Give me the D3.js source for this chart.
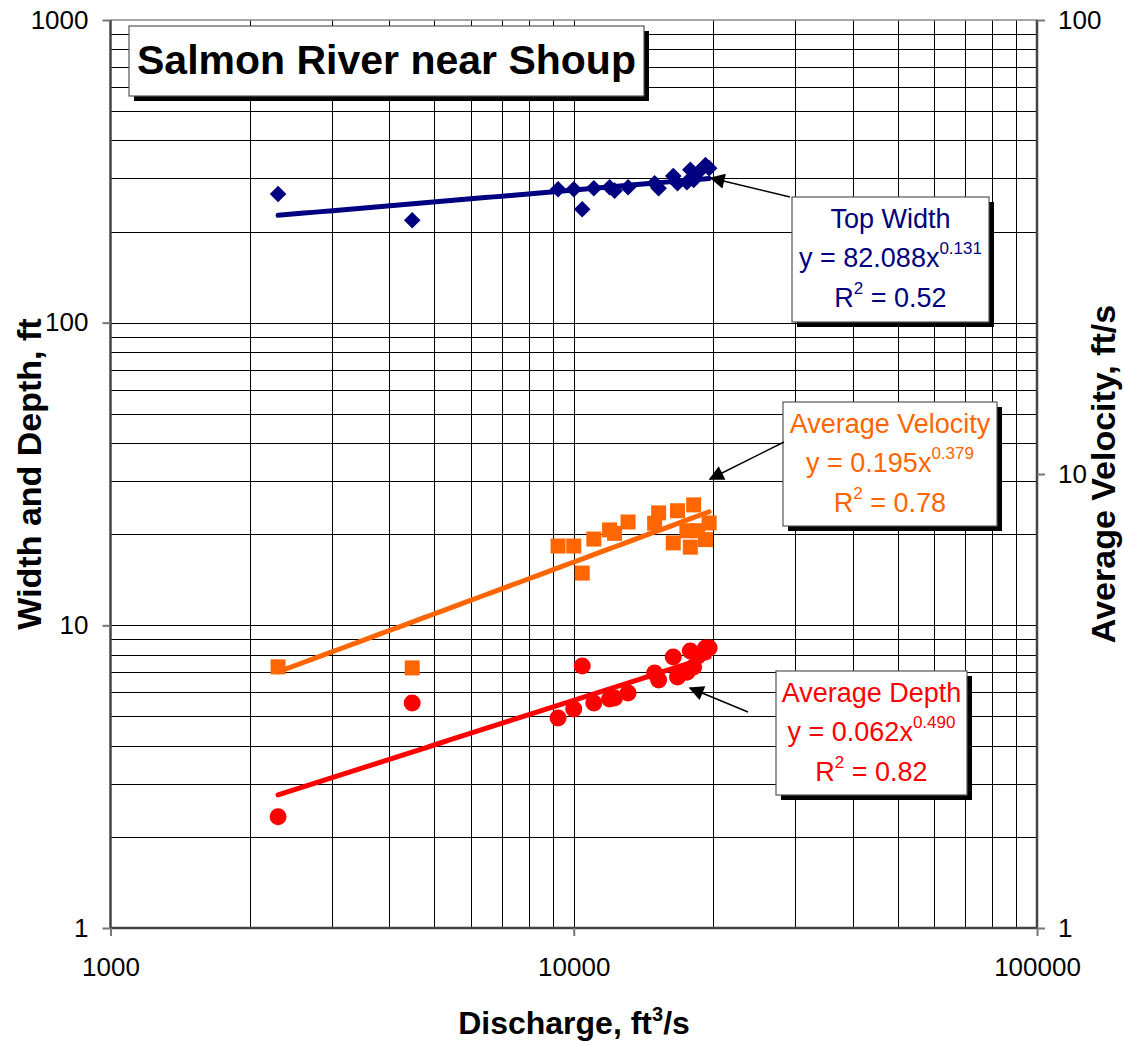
<!DOCTYPE html>
<html>
<head>
<meta charset="utf-8">
<script src="https://cdn.jsdelivr.net/npm/d3@7"></script>
<style>
  html, body { margin: 0; padding: 0; background: #fff; }
  svg { display: block; font-family: Arial, "Liberation Sans", sans-serif; }
</style>
</head>
<body>
<svg id="chart" width="1125" height="1042"></svg>
<script>
// ---------- DATA ----------
const discharge = [2300, 4480, 9250, 10000, 10430, 11050, 11950, 12250, 13100, 14950, 15250, 16400, 16750, 17550, 17850, 18150, 18500, 19250, 19600];
const topWidth  = [266, 218, 276, 276, 237, 278, 280, 273, 280, 289, 278, 305, 289, 291, 320, 296, 312, 332, 324];
const avgDepth  = [2.33, 5.54, 4.94, 5.29, 7.34, 5.54, 5.71, 5.75, 5.98, 6.96, 6.60, 7.86, 6.75, 7.0, 8.23, 7.29, 7.9, 8.42, 8.42];
const avgVelocity = [3.76, 3.74, 6.94, 6.94, 6.05, 7.19, 7.53, 7.4, 7.84, 7.79, 8.21, 7.05, 8.3, 7.5, 6.9, 8.55, 7.5, 7.17, 7.8];

const fits = [
  { name: "Top Width",        a: 82.088, b: 0.131, r2: "0.52", color: "#000080", axis: "left",  coef: "82.088", exp: "0.131" },
  { name: "Average Velocity", a: 0.195,  b: 0.379, r2: "0.78", color: "#FF6600", axis: "right", coef: "0.195",  exp: "0.379" },
  { name: "Average Depth",    a: 0.062,  b: 0.490, r2: "0.82", color: "#FF0000", axis: "left",  coef: "0.062",  exp: "0.490" }
];

const xTicks = [1000, 10000, 100000];
const yLeftTicks = [1, 10, 100, 1000];
const yRightTicks = [1, 10, 100];

// ---------- LAYOUT ----------
const svg = d3.select("#chart");
const L = 110.5, R = 1037, T = 20, B = 928;

const x = d3.scaleLog().domain([1000, 100000]).range([L, R]);
const yL = d3.scaleLog().domain([1, 1000]).range([B, T]);
const yR = d3.scaleLog().domain([1, 100]).range([B, T]);

function minors(lo, hi) {
  const out = [];
  for (let d = lo; d < hi; d *= 10) for (let k = 2; k <= 9; k++) out.push(d * k);
  return out;
}

const grid = svg.append("g").attr("shape-rendering", "crispEdges");
grid.selectAll("line.h").data(minors(1, 1000).concat([10, 100]))
  .enter().append("line")
  .attr("x1", L).attr("x2", R)
  .attr("y1", d => Math.round(yL(d)) + 0.5).attr("y2", d => Math.round(yL(d)) + 0.5)
  .attr("stroke", "#000").attr("stroke-width", 1);
grid.selectAll("line.v").data(minors(1000, 100000).concat([10000]))
  .enter().append("line")
  .attr("y1", T).attr("y2", B)
  .attr("x1", d => Math.round(x(d)) + 0.5).attr("x2", d => Math.round(x(d)) + 0.5)
  .attr("stroke", "#000").attr("stroke-width", 1);

svg.append("line").attr("x1", L).attr("x2", R).attr("y1", T).attr("y2", T)
  .attr("stroke", "#888").attr("stroke-width", 1.5);

// axes
const fmt = d => String(d);
const xAxis = d3.axisBottom(x).tickValues(xTicks).tickFormat(fmt).tickSize(8).tickPadding(22);
const yLeftAxis = d3.axisLeft(yL).tickValues(yLeftTicks).tickFormat(fmt).tickSize(8).tickPadding(14);
const yRightAxis = d3.axisRight(yR).tickValues(yRightTicks).tickFormat(fmt).tickSize(8).tickPadding(13);

function styleAxis(g) {
  g.select(".domain").attr("stroke", "#444").attr("stroke-width", 2.5);
  g.selectAll(".tick line").attr("stroke", "#777").attr("stroke-width", 2);
  g.selectAll(".tick text").attr("fill", "#000").style("font-size", "26px")
    .style("font-family", "Arial, 'Liberation Sans', sans-serif");
}
svg.append("g").attr("transform", `translate(0,${B})`).call(xAxis).call(styleAxis)
  .call(g => g.select(".domain").attr("d", `M${L},0H${R}`));
svg.append("g").attr("transform", `translate(${L},0)`).call(yLeftAxis).call(styleAxis)
  .call(g => g.select(".domain").attr("d", `M0,${T}V${B}`));
svg.append("g").attr("transform", `translate(${R},0)`).call(yRightAxis).call(styleAxis)
  .call(g => g.select(".domain").attr("d", `M0,${T}V${B}`));

// axis titles
svg.append("text").attr("transform", `translate(41,${(T + B) / 2}) rotate(-90)`)
  .attr("text-anchor", "middle").style("font-size", "34px").style("font-weight", "bold")
  .text("Width and Depth, ft");
svg.append("text").attr("transform", `translate(1115,${(T + B) / 2}) rotate(-90)`)
  .attr("text-anchor", "middle").style("font-size", "34px").style("font-weight", "bold")
  .text("Average Velocity, ft/s");
const xt = svg.append("text").attr("x", 574).attr("y", 1034)
  .attr("text-anchor", "middle").style("font-size", "32px").style("font-weight", "bold");
xt.append("tspan").text("Discharge, ft");
xt.append("tspan").attr("dy", -13).style("font-size", "20px").text("3");
xt.append("tspan").attr("dy", 13).text("/s");

// ---------- TREND LINES ----------
const qMin = d3.min(discharge), qMax = d3.max(discharge);
const qs = d3.range(0, 51).map(i => qMin * Math.pow(qMax / qMin, i / 50));

// ---------- POINTS ----------
const pts = discharge.map((q, i) => ({ q, w: topWidth[i], d: avgDepth[i], v: avgVelocity[i] }));

svg.append("g").selectAll("path").data(pts).enter().append("path")
  .attr("d", d3.symbol().type(d3.symbolDiamond2).size(175))
  .attr("transform", d => `translate(${x(d.q)},${yL(d.w)})`)
  .attr("fill", "#000080");
svg.append("g").selectAll("rect").data(pts).enter().append("rect")
  .attr("x", d => x(d.q) - 7.5).attr("y", d => yR(d.v) - 7.5)
  .attr("width", 15).attr("height", 15).attr("fill", "#FF6600");
svg.append("g").selectAll("circle").data(pts).enter().append("circle")
  .attr("cx", d => x(d.q)).attr("cy", d => yL(d.d)).attr("r", 8.5)
  .attr("fill", "#FF0000");

fits.forEach(f => {
  const ys = f.axis === "left" ? yL : yR;
  const line = d3.line().x(d => x(d)).y(d => ys(f.a * Math.pow(d, f.b)));
  svg.append("path").datum(qs).attr("d", line)
    .attr("fill", "none").attr("stroke", f.color).attr("stroke-width", 5)
    .attr("stroke-linecap", "round");
});

// ---------- TITLE BOX ----------
function box(x0, y0, w, h) {
  svg.append("rect").attr("x", x0 + 5).attr("y", y0 + 5).attr("width", w).attr("height", h).attr("fill", "#000");
  svg.append("rect").attr("x", x0).attr("y", y0).attr("width", w).attr("height", h)
    .attr("fill", "#fff").attr("stroke", "#555").attr("stroke-width", 1.2);
}
box(129, 26, 515, 70);
svg.append("text").attr("x", 386.5).attr("y", 74).attr("text-anchor", "middle")
  .style("font-size", "41px").style("font-weight", "bold").text("Salmon River near Shoup");

// ---------- ANNOTATION BOXES ----------
const boxes = [
  { f: fits[0], x0: 792, y0: 197, w: 197, h: 125 },
  { f: fits[1], x0: 783, y0: 402, w: 214, h: 124 },
  { f: fits[2], x0: 776, y0: 671, w: 191, h: 124 }
];
boxes.forEach(b => {
  box(b.x0, b.y0, b.w, b.h);
  const cx = b.x0 + b.w / 2;
  const g = svg.append("g").attr("fill", b.f.color).style("font-size", "27px");
  g.append("text").attr("x", cx).attr("y", b.y0 + 31).attr("text-anchor", "middle").text(b.f.name);
  const t2 = g.append("text").attr("x", cx).attr("y", b.y0 + 70).attr("text-anchor", "middle");
  t2.append("tspan").text("y = " + b.f.coef + "x");
  t2.append("tspan").attr("dy", -13).style("font-size", "17px").text(b.f.exp);
  const t3 = g.append("text").attr("x", cx).attr("y", b.y0 + 110).attr("text-anchor", "middle");
  t3.append("tspan").text("R");
  t3.append("tspan").attr("dy", -13).style("font-size", "17px").text("2");
  t3.append("tspan").attr("dy", 13).text(" = " + b.f.r2);
});

// ---------- ARROWS ----------
svg.append("defs").append("marker").attr("id", "ah")
  .attr("viewBox", "0 0 10 10").attr("refX", 9).attr("refY", 5)
  .attr("markerWidth", 20).attr("markerHeight", 15).attr("markerUnits", "userSpaceOnUse")
  .attr("orient", "auto")
  .append("path").attr("d", "M0,0L10,5L0,10Z").attr("fill", "#000");
const arrows = [
  [790, 197, 711, 178],
  [784, 442, 710, 479],
  [748, 712, 690, 688]
];
arrows.forEach(a => {
  svg.append("line").attr("x1", a[0]).attr("y1", a[1]).attr("x2", a[2]).attr("y2", a[3])
    .attr("stroke", "#000").attr("stroke-width", 1.5)
    .attr("marker-end", "url(#ah)");
});
</script>
</body>
</html>
